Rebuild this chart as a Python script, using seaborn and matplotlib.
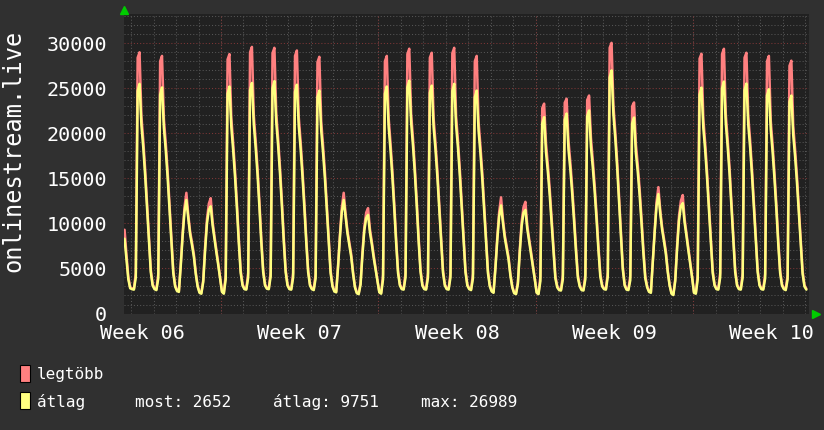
import matplotlib
matplotlib.use("Agg")
import matplotlib.pyplot as plt
import matplotlib.dates as mdates
from matplotlib.ticker import MultipleLocator
from matplotlib.patches import Rectangle
import pandas as pd
import seaborn as sns

# 2-hour averages, stamped at the middle of each bucket:
# first one Wed 2025-02-05 17:00, last one Sat 2025-03-08 01:00
start_time = "2025-02-05 17:00"

avg_values = [
    8300, 6000, 3800, 2800,  # Wed (partial)
    2700, 2650, 4000, 24700, 25500, 20900, 18400, 15300, 11700, 7900, 4600, 3100,  # Thu
    2700, 2600, 3900, 24300, 25100, 20600, 18100, 15100, 11500, 7800, 4500, 3000,  # Fri
    2500, 2400, 5300, 8600, 11300, 12600, 10600, 8800, 7600, 6300, 4400, 3000,  # Sat
    2300, 2200, 3500, 7000, 10000, 11500, 11900, 9800, 8300, 6800, 5400, 3900,  # Sun
    2400, 2200, 3800, 24400, 25200, 20700, 18100, 15100, 11600, 7800, 4500, 3100,  # Mon w07
    2700, 2650, 4000, 24800, 25600, 21000, 18400, 15400, 11800, 7900, 4600, 3100,
    2750, 2700, 4100, 25000, 25800, 21200, 18600, 15500, 11900, 8000, 4600, 3100,
    2700, 2650, 4000, 24600, 25400, 20800, 18300, 15200, 11700, 7900, 4600, 3100,
    2700, 2600, 3900, 24000, 24750, 20300, 17800, 14900, 11400, 7700, 4500, 3000,
    2450, 2350, 5200, 8500, 11300, 12600, 10700, 8900, 7600, 6300, 4400, 2900,
    2250, 2150, 3200, 6500, 9200, 10600, 10950, 9000, 7700, 6200, 4900, 3600,
    2350, 2200, 3800, 24400, 25200, 20700, 18100, 15100, 11600, 7800, 4500, 3100,  # Mon w08
    2700, 2650, 4000, 25100, 25850, 21200, 18600, 15500, 11900, 8000, 4650, 3100,
    2700, 2650, 4000, 24500, 25300, 20700, 18200, 15200, 11600, 7800, 4550, 3100,
    2700, 2650, 4000, 24700, 25500, 20900, 18400, 15300, 11700, 7900, 4600, 3100,
    2700, 2600, 3900, 24000, 24750, 20300, 17800, 14900, 11400, 7700, 4500, 3000,
    2450, 2300, 5000, 8200, 10800, 12000, 10100, 8400, 7200, 6000, 4200, 2900,
    2250, 2150, 3300, 6800, 9700, 11200, 11500, 9400, 8000, 6600, 5200, 3800,
    2300, 2150, 3600, 21100, 21800, 17900, 15700, 13100, 10000, 6800, 3900, 2900,  # Mon w09
    2600, 2550, 3800, 21500, 22200, 18200, 16000, 13300, 10200, 6900, 4000, 3000,
    2600, 2550, 3800, 21900, 22540, 18500, 16200, 13500, 10400, 7000, 4100, 3000,
    2700, 2650, 4100, 26200, 26989, 22100, 19400, 16200, 12400, 8400, 4900, 3100,
    2650, 2600, 3700, 21100, 21760, 17800, 15700, 13100, 10000, 6700, 3900, 2900,
    2400, 2300, 5600, 9000, 11900, 13260, 11100, 9300, 8000, 6600, 4600, 3100,
    2200, 2050, 3600, 7200, 10300, 11900, 12260, 10100, 8600, 7000, 5500, 4000,
    2300, 2200, 3800, 24300, 25080, 20600, 18100, 15000, 11500, 7800, 4500, 3100,  # Mon w10
    2700, 2650, 4000, 25000, 25750, 21100, 18500, 15500, 11800, 8000, 4600, 3100,
    2700, 2650, 4000, 24800, 25530, 20900, 18400, 15300, 11700, 7900, 4600, 3100,
    2700, 2650, 3900, 24200, 24900, 20400, 17900, 14900, 11500, 7700, 4500, 3100,
    2700, 2600, 3800, 23500, 24200, 19800, 17400, 14500, 11100, 7500, 4400, 3000,
    2652,  # Sat
]

max_values = [
    9300, 6600, 4100, 2900,
    2800, 2750, 4500, 28400, 29000, 21900, 19200, 16000, 12300, 8400, 4900, 3250,
    2800, 2700, 4400, 28000, 28600, 21600, 18900, 15800, 12100, 8300, 4800, 3150,
    2600, 2500, 5500, 8900, 11800, 13400, 11000, 9100, 7900, 6600, 4600, 3100,
    2400, 2300, 3700, 7400, 10500, 12200, 12800, 10200, 8600, 7100, 5600, 4000,
    2500, 2300, 4300, 28200, 28800, 21700, 18900, 15800, 12200, 8300, 4800, 3250,
    2800, 2750, 4500, 29000, 29600, 22000, 19200, 16100, 12400, 8400, 4900, 3250,
    2850, 2800, 4600, 28900, 29500, 22200, 19400, 16200, 12500, 8500, 4900, 3250,
    2800, 2750, 4500, 28600, 29200, 21800, 19100, 15900, 12300, 8400, 4900, 3250,
    2800, 2700, 4400, 27900, 28500, 21300, 18600, 15600, 12000, 8200, 4800, 3150,
    2550, 2450, 5400, 8800, 11800, 13400, 11100, 9200, 7900, 6600, 4600, 3000,
    2350, 2250, 3400, 6800, 9600, 11200, 11700, 9400, 8000, 6500, 5100, 3700,
    2450, 2300, 4300, 28000, 28600, 21700, 18900, 15800, 12200, 8300, 4800, 3250,
    2800, 2750, 4500, 28800, 29400, 22200, 19400, 16200, 12500, 8500, 4950, 3250,
    2800, 2750, 4500, 28400, 28950, 21700, 19000, 15900, 12200, 8300, 4850, 3250,
    2800, 2750, 4500, 28900, 29500, 21900, 19200, 16000, 12300, 8400, 4900, 3250,
    2800, 2700, 4400, 28000, 28600, 21300, 18600, 15600, 12000, 8200, 4800, 3150,
    2550, 2400, 5200, 8500, 11300, 12900, 10500, 8700, 7500, 6300, 4400, 3000,
    2350, 2250, 3500, 7100, 10200, 11800, 12400, 9800, 8300, 6900, 5400, 3900,
    2400, 2250, 4100, 22800, 23300, 18900, 16500, 13800, 10600, 7300, 4200, 3050,
    2700, 2650, 4300, 23400, 23850, 19200, 16800, 14000, 10800, 7400, 4300, 3150,
    2700, 2650, 4300, 23700, 24200, 19500, 17000, 14200, 11000, 7500, 4400, 3150,
    2800, 2750, 4600, 29500, 30050, 23100, 20200, 16900, 13000, 8900, 5200, 3250,
    2750, 2700, 4200, 23000, 23430, 18800, 16500, 13800, 10600, 7200, 4200, 3050,
    2500, 2400, 5800, 9300, 12400, 14030, 11500, 9600, 8300, 6900, 4800, 3200,
    2300, 2150, 3800, 7600, 10800, 12500, 13150, 10500, 8900, 7300, 5700, 4100,
    2400, 2300, 4300, 28300, 28840, 21600, 18900, 15700, 12100, 8300, 4800, 3250,
    2800, 2750, 4500, 28800, 29390, 22100, 19300, 16200, 12400, 8500, 4900, 3250,
    2800, 2750, 4500, 28400, 28950, 21900, 19200, 16000, 12300, 8400, 4900, 3250,
    2800, 2750, 4400, 28000, 28600, 21400, 18700, 15600, 12100, 8200, 4800, 3250,
    2800, 2700, 4300, 27500, 28070, 20800, 18200, 15200, 11700, 8000, 4700, 3150,
    2750,
]

series_names = ["legtöbb", "átlag"]
week_label_fmt = "Week %V"
y_label = "onlinestream.live"
last_avg = 2652
mean_avg = 9751
max_avg = 26989

BG = "#303030"
PLOT_BG = "#212121"
RED = "#ff8080"
YELLOW = "#ffff80"
GRID_MINOR = "#555555"
GRID_MAJOR = "#7d3636"
ARROW = "#00cc00"

sns.set_style("dark", {"axes.facecolor": PLOT_BG, "figure.facecolor": BG})
plt.rcParams["font.family"] = ["DejaVu Sans Mono"]

times = pd.date_range(start_time, periods=len(avg_values), freq="2h")
df = pd.DataFrame({"time": times, series_names[0]: max_values, series_names[1]: avg_values})

fig = plt.figure(figsize=(8.24, 4.30), dpi=100, facecolor=BG)
ax = fig.add_axes([0.1505, 0.2709, 0.8313, 0.6965])
ax.set_facecolor(PLOT_BG)

sns.lineplot(data=df, x="time", y=series_names[0], color=RED, lw=1.8, ax=ax, zorder=3)
sns.lineplot(data=df, x="time", y=series_names[1], color=YELLOW, lw=1.8, ax=ax, zorder=4)

ax.set_xlim(pd.Timestamp("2025-02-05 16:25"), pd.Timestamp("2025-03-08 03:50"))
ax.set_ylim(0, 33250)
ax.set_xlabel("")
ax.set_ylabel("")

# grid: days / 1000 minor grey, weeks / 5000 major red
dotted = (0, (1, 2))
ax.yaxis.set_major_locator(MultipleLocator(5000))
ax.yaxis.set_minor_locator(MultipleLocator(1000))
ax.xaxis.set_minor_locator(mdates.DayLocator())
week_mid = pd.date_range("2025-02-06 12:00", periods=5, freq="7D")
ax.set_xticks(week_mid)
ax.xaxis.set_major_formatter(mdates.DateFormatter(week_label_fmt))

ax.yaxis.grid(True, which="minor", color=GRID_MINOR, lw=0.75, ls=dotted, zorder=1)
ax.yaxis.grid(True, which="major", color=GRID_MAJOR, lw=0.75, ls=dotted, zorder=2)
ax.xaxis.grid(True, which="minor", color=GRID_MINOR, lw=0.75, ls=dotted, zorder=1)
ax.xaxis.grid(False, which="major")
for monday in pd.date_range("2025-02-10", periods=4, freq="7D"):
    ax.axvline(monday, color=GRID_MAJOR, lw=0.75, ls=dotted, zorder=2)
ax.set_axisbelow(True)

ax.tick_params(axis="both", which="both", length=0, colors="white", labelsize=14.5)
ax.tick_params(axis="y", pad=12)
ax.tick_params(axis="x", pad=7.5)
for s in ax.spines.values():
    s.set_visible(False)

# rrdtool style arrows
ax.plot([0], [1.012], marker="^", ms=6, color=ARROW, transform=ax.transAxes, clip_on=False)
ax.plot([1.0095], [0], marker=">", ms=6, color=ARROW, transform=ax.transAxes, clip_on=False)

fig.text(0.0165, 0.650, y_label, rotation=90, color="white", fontsize=17,
         ha="center", va="center")

# legend
for ybot, col in [(0.1123, RED), (0.0488, YELLOW)]:
    fig.patches.append(Rectangle((0.0243, ybot), 0.0121, 0.0388, transform=fig.transFigure,
                                 facecolor=col, edgecolor="black", lw=0.8))
fs = 11.5
row1, row2 = 0.1290, 0.0640
fig.text(0.0445, row1, series_names[0], color="white", fontsize=fs, va="center")
fig.text(0.0445, row2, series_names[1], color="white", fontsize=fs, va="center")
fig.text(0.1638, row2, f"most: {last_avg}", color="white", fontsize=fs, va="center")
fig.text(0.3317, row2, f"átlag: {mean_avg}", color="white", fontsize=fs, va="center")
fig.text(0.5106, row2, f"max: {max_avg}", color="white", fontsize=fs, va="center")

fig.savefig("out.png", dpi=100, facecolor=BG)
plt.close(fig)
